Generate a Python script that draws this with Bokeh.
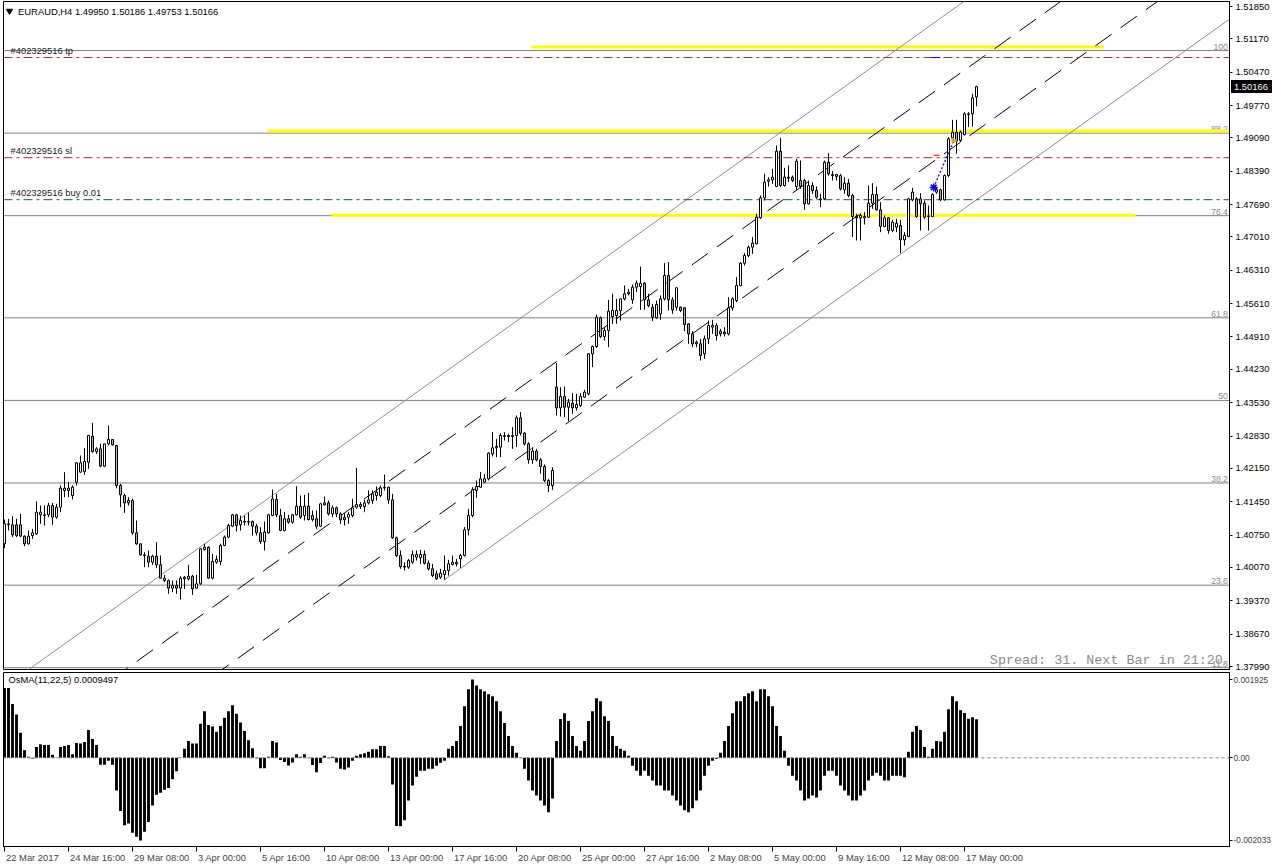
import numpy as np
from bokeh.plotting import figure
from bokeh.layouts import column
from bokeh.models import (ColumnDataSource, FixedTicker, Range1d, Span, NumeralTickFormatter, Div)
from bokeh.embed import file_html
from bokeh.resources import INLINE
from bokeh.core.properties import value

FONT = "Liberation Sans"

title_text = "EURAUD,H4  1.49950 1.50186 1.49753 1.50166"
last_close = 1.50166
osma_title = "OsMA(11,22,5) 0.0009497"
spread_text = "Spread: 31. Next Bar in 21:20"

bar_open = [
1.40566,1.40986,1.40965,1.40965,1.40965,1.40727,1.40566,1.40741,1.40776,1.41175,
1.41175,1.41175,1.41371,1.41126,1.41336,1.41686,1.41686,1.41581,1.41861,1.42071,
1.42085,1.42281,1.42827,1.42505,1.42561,1.42197,1.42666,1.42757,1.42631,1.41791,
1.41581,1.41427,1.41476,1.40797,1.40566,1.40335,1.40307,1.40181,1.40307,1.40125,
1.39845,1.39796,1.39635,1.39691,1.39635,1.39831,1.39831,1.39887,1.39635,1.39726,
1.40447,1.40496,1.39845,1.40181,1.40195,1.40531,1.40706,1.40937,1.41175,1.40965,
1.41035,1.41021,1.41035,1.40937,1.40797,1.40615,1.40797,1.41161,1.41497,1.41161,
1.40846,1.41091,1.41021,1.41175,1.41357,1.41161,1.41357,1.41161,1.41091,1.40937,
1.41385,1.41427,1.41196,1.41322,1.41196,1.41126,1.41126,1.41161,1.41336,1.41392,
1.41350,1.41427,1.41476,1.41581,1.41581,1.41742,1.41756,1.41490,1.40692,1.40321,
1.40090,1.40076,1.40181,1.40286,1.40272,1.40342,1.40160,1.40041,1.39936,1.39866,
1.39922,1.40006,1.40132,1.40181,1.40251,1.40321,1.40860,1.41161,1.41686,1.41756,
1.41861,1.41931,1.42456,1.42582,1.42596,1.42820,1.42841,1.42820,1.42841,1.43212,
1.42890,1.42666,1.42330,1.42512,1.42330,1.42190,1.41896,1.41791,1.43856,1.43422,
1.43660,1.43436,1.43520,1.43422,1.43471,1.43646,1.43716,1.44556,1.44710,1.45312,
1.44920,1.45046,1.45340,1.45361,1.45466,1.45711,1.45816,1.45690,1.45956,1.45970,
1.46040,1.45690,1.45536,1.45312,1.45396,1.45711,1.46201,1.45690,1.45536,1.45536,
1.45522,1.45186,1.44976,1.44766,1.44766,1.44556,1.44871,1.45116,1.45151,1.45032,
1.45011,1.44976,1.45522,1.45676,1.45991,1.46460,1.46621,1.46796,1.46866,1.47412,
1.47832,1.48182,1.48210,1.48070,1.48812,1.48091,1.48266,1.48266,1.48070,1.48196,
1.48196,1.47706,1.48091,1.47986,1.47811,1.47811,1.48581,1.48322,1.48322,1.48301,
1.48000,1.48140,1.47881,1.47440,1.47412,1.47412,1.47426,1.47720,1.47902,1.47580,
1.47230,1.47412,1.47146,1.47216,1.47251,1.46950,1.47020,1.47790,1.47811,1.47811,
1.47720,1.47440,1.47440,1.47951,1.48000,1.47790,1.48301,1.49092,1.49211,1.49036,
1.49162,1.49596,1.49596,1.49950]

bar_high = [
1.41077,1.41091,1.41147,1.41091,1.41196,1.40741,1.40846,1.40881,1.41455,1.41371,
1.41371,1.41427,1.41427,1.41406,1.41791,1.42071,1.41861,1.41791,1.42281,1.42421,
1.42575,1.42855,1.43107,1.42596,1.42666,1.42666,1.43051,1.42757,1.42645,1.41826,
1.41616,1.41546,1.41511,1.41056,1.40566,1.40391,1.40426,1.40335,1.40601,1.40321,
1.39915,1.39817,1.39796,1.39796,1.39887,1.39887,1.40125,1.39915,1.39915,1.40475,
1.40566,1.40517,1.40356,1.40321,1.40566,1.40741,1.40986,1.41196,1.41196,1.41161,
1.41161,1.41217,1.41056,1.40986,1.40916,1.41035,1.41196,1.41707,1.41616,1.41301,
1.41231,1.41175,1.41196,1.41777,1.41581,1.41595,1.41637,1.41266,1.41266,1.41427,
1.41560,1.41476,1.41371,1.41350,1.41231,1.41210,1.41231,1.41511,1.42162,1.41441,
1.41490,1.41686,1.41686,1.41770,1.41791,1.42022,1.41756,1.41616,1.40720,1.40426,
1.40181,1.40251,1.40426,1.40426,1.40440,1.40426,1.40216,1.40146,1.40006,1.40041,
1.40321,1.40230,1.40321,1.40251,1.40356,1.40916,1.41301,1.41756,1.41896,1.42071,
1.42036,1.42491,1.42911,1.42771,1.42890,1.42911,1.42876,1.43016,1.43261,1.43331,
1.42911,1.42701,1.42596,1.42561,1.42372,1.42232,1.41931,1.42176,1.44360,1.43856,
1.43870,1.43611,1.43730,1.43716,1.43730,1.43800,1.44570,1.44731,1.45382,1.45340,
1.45116,1.45690,1.45816,1.45711,1.45711,1.45991,1.45921,1.46012,1.46096,1.46390,
1.46061,1.45816,1.45606,1.45676,1.45781,1.46460,1.46481,1.45746,1.45956,1.45550,
1.45536,1.45200,1.45032,1.44836,1.44871,1.44941,1.45256,1.45270,1.45200,1.45081,
1.45116,1.45746,1.45746,1.46166,1.46481,1.46670,1.46831,1.47006,1.47496,1.47881,
1.48336,1.48266,1.48441,1.48931,1.49092,1.48462,1.48511,1.48301,1.48651,1.48616,
1.48231,1.48196,1.48161,1.48070,1.47916,1.48616,1.48770,1.48392,1.48336,1.48336,
1.48266,1.48231,1.47916,1.47496,1.47510,1.47531,1.48091,1.48140,1.48070,1.47741,
1.47461,1.47426,1.47370,1.47391,1.47370,1.47111,1.47832,1.48042,1.47846,1.47930,
1.47776,1.47671,1.47930,1.48056,1.48021,1.48322,1.49106,1.49470,1.49470,1.49246,
1.49631,1.49631,1.50016,1.50186]

bar_low = [
1.40475,1.40846,1.40706,1.40706,1.40706,1.40517,1.40552,1.40671,1.40755,1.40986,
1.40951,1.41126,1.40965,1.41091,1.41231,1.41546,1.41546,1.41497,1.41791,1.42057,
1.42015,1.42141,1.42477,1.42456,1.42176,1.42176,1.42631,1.42631,1.41735,1.41336,
1.41217,1.41371,1.40755,1.40545,1.40321,1.40076,1.40076,1.40125,1.40055,1.39845,
1.39761,1.39516,1.39551,1.39516,1.39397,1.39621,1.39796,1.39495,1.39621,1.39705,
1.40426,1.39831,1.39817,1.40146,1.40111,1.40517,1.40685,1.40916,1.40825,1.40846,
1.40951,1.40951,1.40741,1.40741,1.40566,1.40426,1.40776,1.41147,1.41126,1.40832,
1.40825,1.40986,1.40986,1.41161,1.41091,1.41056,1.41056,1.41035,1.40881,1.40916,
1.41371,1.41161,1.41126,1.41126,1.40986,1.40951,1.40986,1.41126,1.41301,1.41301,
1.41231,1.41392,1.41406,1.41476,1.41546,1.41686,1.41406,1.40671,1.40286,1.40041,
1.40006,1.40041,1.40146,1.40216,1.40146,1.40132,1.40006,1.39866,1.39810,1.39831,
1.39810,1.39901,1.40111,1.40090,1.40062,1.40300,1.40741,1.41126,1.41532,1.41742,
1.41840,1.41896,1.42400,1.42386,1.42386,1.42736,1.42701,1.42561,1.42596,1.42841,
1.42631,1.42246,1.42246,1.42302,1.42036,1.41861,1.41651,1.41700,1.43261,1.43240,
1.43226,1.43142,1.43296,1.43366,1.43436,1.43632,1.43681,1.44276,1.44682,1.44892,
1.44836,1.44696,1.45186,1.45186,1.45256,1.45676,1.45781,1.45606,1.45851,1.45480,
1.45480,1.45536,1.45242,1.45291,1.45270,1.45676,1.45466,1.45396,1.45466,1.45431,
1.45032,1.44766,1.44696,1.44696,1.44416,1.44451,1.44766,1.44976,1.44836,1.44920,
1.44920,1.44941,1.45466,1.45641,1.45970,1.46411,1.46586,1.46656,1.46852,1.47391,
1.47776,1.48070,1.48126,1.48056,1.48056,1.48070,1.48161,1.48161,1.47986,1.48021,
1.47580,1.47692,1.47916,1.47811,1.47636,1.47790,1.48301,1.48196,1.48196,1.47986,
1.47916,1.47846,1.47006,1.46936,1.46936,1.47272,1.47412,1.47601,1.47566,1.47111,
1.47216,1.47076,1.47111,1.47111,1.46670,1.46831,1.47006,1.47762,1.47412,1.47146,
1.47391,1.47146,1.47426,1.47916,1.47762,1.47776,1.48266,1.49036,1.48756,1.49001,
1.49141,1.49316,1.49330,1.49753]

bar_close = [
1.40986,1.40972,1.40755,1.40741,1.40727,1.40566,1.40727,1.40797,1.41231,1.41231,
1.41161,1.41371,1.41126,1.41336,1.41735,1.41735,1.41735,1.41756,1.42267,1.42267,
1.42295,1.42841,1.42505,1.42561,1.42197,1.42666,1.42757,1.42645,1.41791,1.41595,
1.41427,1.41476,1.40797,1.40566,1.40335,1.40321,1.40181,1.40307,1.40125,1.39845,
1.39796,1.39635,1.39691,1.39635,1.39845,1.39866,1.39887,1.39621,1.39726,1.40461,
1.40496,1.39845,1.40195,1.40237,1.40531,1.40706,1.40951,1.41175,1.40951,1.41056,
1.41021,1.41035,1.40937,1.40797,1.40615,1.40811,1.41175,1.41511,1.41175,1.40846,
1.41091,1.41021,1.41175,1.41357,1.41126,1.41357,1.41077,1.41077,1.40937,1.41406,
1.41427,1.41196,1.41322,1.41196,1.41070,1.41070,1.41182,1.41322,1.41392,1.41350,
1.41427,1.41490,1.41616,1.41651,1.41742,1.41756,1.41490,1.40692,1.40321,1.40090,
1.40076,1.40216,1.40342,1.40342,1.40342,1.40160,1.40041,1.39901,1.39831,1.39950,
1.40006,1.40146,1.40181,1.40146,1.40321,1.40860,1.41161,1.41700,1.41770,1.41931,
1.41931,1.42470,1.42582,1.42610,1.42841,1.42841,1.42820,1.42841,1.43212,1.42890,
1.42666,1.42330,1.42512,1.42330,1.42190,1.41896,1.41791,1.42106,1.43422,1.43660,
1.43436,1.43541,1.43422,1.43492,1.43660,1.43751,1.44556,1.44710,1.45326,1.44920,
1.45046,1.45452,1.45466,1.45466,1.45711,1.45816,1.45851,1.45956,1.46040,1.46040,
1.45690,1.45571,1.45326,1.45592,1.45711,1.46201,1.45690,1.45480,1.45942,1.45466,
1.45172,1.44976,1.44766,1.44801,1.44521,1.44871,1.45151,1.45151,1.44941,1.44976,
1.44976,1.45522,1.45711,1.45991,1.46460,1.46621,1.46796,1.46880,1.47426,1.47832,
1.48161,1.48210,1.48266,1.48812,1.48091,1.48266,1.48245,1.48196,1.48602,1.48070,
1.47706,1.48091,1.47986,1.47846,1.47790,1.48581,1.48336,1.48301,1.48280,1.48021,
1.48140,1.47881,1.47440,1.47412,1.47461,1.47440,1.47720,1.47902,1.47580,1.47230,
1.47412,1.47146,1.47321,1.47300,1.46950,1.47041,1.47811,1.47951,1.47440,1.47706,
1.47426,1.47454,1.47902,1.48000,1.47790,1.48301,1.49071,1.49211,1.49022,1.49211,
1.49596,1.49582,1.49932,1.50166]

osma_values = [
17.15e-4,17.15e-4,13.25e-4,10.65e-4,6.18e-4,1.87e-4,0.24e-4,-0.16e-4,2.68e-4,3.33e-4,
3.17e-4,3.17e-4,0.73e-4,0.08e-4,2.68e-4,2.93e-4,3.17e-4,0.89e-4,3.66e-4,3.50e-4,
3.90e-4,6.83e-4,4.63e-4,3.17e-4,-1.71e-4,-1.71e-4,-0.73e-4,-1.71e-4,-8.05e-4,-13.09e-4,
-16.59e-4,-16.18e-4,-18.46e-4,-19.43e-4,-20.33e-4,-18.21e-4,-15.77e-4,-11.71e-4,-9.11e-4,-8.62e-4,
-7.89e-4,-7.40e-4,-5.28e-4,-3.33e-4,-0.05e-4,2.20e-4,4.15e-4,3.50e-4,3.50e-4,8.37e-4,
11.46e-4,8.05e-4,7.72e-4,6.42e-4,7.80e-4,9.84e-4,11.46e-4,12.93e-4,10.81e-4,8.70e-4,
6.59e-4,4.31e-4,2.36e-4,-0.08e-4,-2.60e-4,-2.60e-4,0.24e-4,4.15e-4,3.74e-4,-0.57e-4,
-1.06e-4,-1.87e-4,-1.14e-4,0.89e-4,0.24e-4,0.89e-4,-0.08e-4,-1.79e-4,-3.58e-4,-1.30e-4,
0.49e-4,-0.08e-4,0.24e-4,-1.14e-4,-2.68e-4,-2.85e-4,-2.36e-4,-0.73e-4,0.49e-4,0.89e-4,
1.14e-4,1.46e-4,2.11e-4,2.11e-4,2.93e-4,2.93e-4,0.41e-4,-6.59e-4,-16.75e-4,-16.84e-4,
-15.37e-4,-10.49e-4,-6.83e-4,-4.64e-4,-3.17e-4,-3.17e-4,-2.68e-4,-2.68e-4,-1.95e-4,-1.22e-4,
-0.73e-4,2.20e-4,2.93e-4,4.15e-4,7.81e-4,12.69e-4,16.84e-4,19.25e-4,17.81e-4,16.84e-4,
16.35e-4,15.62e-4,15.13e-4,13.91e-4,11.47e-4,8.54e-4,5.37e-4,2.93e-4,1.22e-4,0.05e-4,
-2.68e-4,-5.61e-4,-8.05e-4,-9.27e-4,-10.49e-4,-11.71e-4,-13.42e-4,-10.00e-4,4.15e-4,9.52e-4,
10.98e-4,9.03e-4,5.37e-4,2.93e-4,1.71e-4,4.15e-4,9.03e-4,11.47e-4,14.64e-4,13.91e-4,
10.25e-4,9.03e-4,5.37e-4,2.93e-4,2.20e-4,1.71e-4,0.49e-4,-1.95e-4,-3.17e-4,-4.39e-4,
-3.17e-4,-4.39e-4,-5.61e-4,-6.83e-4,-6.83e-4,-8.05e-4,-8.05e-4,-9.27e-4,-10.49e-4,-11.71e-4,
-12.93e-4,-13.42e-4,-12.44e-4,-10.49e-4,-8.05e-4,-4.39e-4,-1.95e-4,-0.73e-4,-0.24e-4,1.22e-4,
4.15e-4,7.81e-4,10.98e-4,13.91e-4,13.91e-4,15.13e-4,15.86e-4,16.35e-4,13.91e-4,16.84e-4,
16.84e-4,15.13e-4,12.69e-4,7.81e-4,5.37e-4,1.71e-4,-1.95e-4,-4.39e-4,-5.61e-4,-8.05e-4,
-10.49e-4,-10.00e-4,-9.27e-4,-9.76e-4,-8.05e-4,-4.39e-4,-3.17e-4,-3.17e-4,-4.39e-4,-6.83e-4,
-8.05e-4,-9.27e-4,-10.49e-4,-10.49e-4,-9.27e-4,-8.05e-4,-5.61e-4,-4.39e-4,-3.66e-4,-4.39e-4,
-5.61e-4,-5.61e-4,-4.39e-4,-4.39e-4,-4.39e-4,-4.81e-4,1.46e-4,6.42e-4,7.81e-4,6.83e-4,
2.68e-4,0.24e-4,2.20e-4,4.15e-4,3.98e-4,6.42e-4,11.96e-4,15.13e-4,13.91e-4,11.71e-4,
11.05e-4,9.59e-4,10.00e-4,9.50e-4]

price_tick_labels = ["1.51850", "1.51170", "1.50470", "1.49770", "1.49090", "1.48390", "1.47690",
                     "1.47010", "1.46310", "1.45610", "1.44910", "1.44230", "1.43530", "1.42830",
                     "1.42150", "1.41450", "1.40750", "1.40070", "1.39370", "1.38670", "1.37990"]
osma_tick_values = [0.001925, 0.0, -0.002033]
osma_tick_labels = ["0.001925", "0.00", "-0.002033"]
time_tick_bars = [0, 16, 32, 48, 64, 80, 96, 112, 128, 144, 160, 176, 192, 208, 224, 240]
time_tick_labels = ["22 Mar 2017", "24 Mar 16:00", "29 Mar 08:00", "3 Apr 00:00", "5 Apr 16:00",
                    "10 Apr 08:00", "13 Apr 00:00", "17 Apr 16:00", "20 Apr 08:00", "25 Apr 00:00",
                    "27 Apr 16:00", "2 May 08:00", "5 May 00:00", "9 May 16:00", "12 May 08:00",
                    "17 May 00:00"]

fib_levels = [100, 88.2, 76.4, 61.8, 50, 38.2, 23.6, 11.8]
fib_level_labels = ["100", "88.2", "76.4", "61,8", "50", "38,2", "23,6", "11,8"]
fib_price_100 = 1.50925
fib_price_0 = 1.36231

yellow_prices = [1.51000, 1.49237, 1.47467]
yellow_start_bar = [131.75, 65.75, 81.75]
yellow_end_bar = [274.75, 310.0, 282.75]

order_labels = ["#402329516 tp", "#402329516 sl", "#402329516 buy 0.01"]
order_prices = [1.50778, 1.48675, 1.47793]
order_colors = ["#a52a2a", "#a52a2a", "#0b6b0b"]

channel_anchor_bar = 110
channel_anchor_price = 1.39810
channel_slope = 0.000600
channel_height = 0.04354

entry_bar, entry_price = 232.3, 1.48050
exit_bar, exit_price = 237.3, 1.49031

X0, X1 = -0.25, 306.25
Y0, Y1 = 1.37927, 1.51955
O0, O1 = -0.002182, 0.0020984
FRAME_W = 1226
FRAME_H = 668
TOP = 1
LEFT = 3
FS = 9.4  # px, label font size

# ---------------- main price panel ----------------
p = figure(frame_width=FRAME_W, frame_height=FRAME_H, x_range=Range1d(X0, X1), y_range=Range1d(Y0, Y1),
           y_axis_location="right", x_axis_location=None, output_backend="svg",
           toolbar_location=None, min_border_left=LEFT, min_border_top=TOP, min_border_bottom=1,
           min_border_right=0, background_fill_color="white", border_fill_color="white",
           outline_line_color="black", outline_line_width=1)
p.grid.visible = False
ya = p.yaxis[0]
ya.ticker = FixedTicker(ticks=[float(s) for s in price_tick_labels])
ya.formatter = NumeralTickFormatter(format="0.00000")
ya.major_tick_out = 3
ya.major_tick_in = 0
ya.minor_tick_out = 0
ya.minor_tick_in = 0
ya.major_label_standoff = 3
ya.axis_line_color = "black"
ya.major_label_text_font = FONT
ya.major_label_text_font_size = "%spx" % FS
ya.major_label_text_color = "black"

# fibonacci levels
fib_prices = [fib_price_0 + (fib_price_100 - fib_price_0) * lv / 100.0 for lv in fib_levels]
p.segment(x0=[X0] * len(fib_prices), x1=[X1] * len(fib_prices), y0=fib_prices, y1=fib_prices,
          line_color="#808080", line_width=1)
p.text(x=[X1 - 0.4] * len(fib_prices), y=fib_prices, text=fib_level_labels, text_align="right",
       text_baseline="bottom", y_offset=-1, text_font=value(FONT), text_font_size="8.6px",
       text_color="#8a8a8a")

# yellow horizontal levels
p.segment(x0=yellow_start_bar, x1=yellow_end_bar, y0=yellow_prices, y1=yellow_prices,
          line_color="#ffff00", line_width=3)

# equidistant channel
xs_full = np.array([-30.0, 330.0])
def chan(off, xs):
    return list(channel_anchor_price + channel_slope * (xs - channel_anchor_bar) + off)
xs_low = np.array([channel_anchor_bar, 330.0])
p.line(list(xs_low), chan(0.0, xs_low), line_color="#8c8c8c", line_width=1)
p.line(list(xs_full), chan(channel_height, xs_full), line_color="#8c8c8c", line_width=1)
p.line(list(xs_full), chan(channel_height / 3.0, xs_full), line_color="black", line_width=1,
       line_dash="20 11")
p.line(list(xs_full), chan(2.0 * channel_height / 3.0, xs_full), line_color="black", line_width=1,
       line_dash="20 11")

# order lines
for lab, pr, col in zip(order_labels, order_prices, order_colors):
    p.segment(x0=[X0], x1=[X1], y0=[pr], y1=[pr], line_color=col, line_width=1, line_dash="9 4 3 4")
p.text(x=[1.5] * 3, y=order_prices, text=order_labels, text_baseline="bottom", y_offset=-2,
       text_font=value(FONT), text_font_size="%spx" % FS, text_color="#202020")

# candles
idx = list(range(len(bar_open)))
tops = [max(o, c) for o, c in zip(bar_open, bar_close)]
bots = [min(o, c) for o, c in zip(bar_open, bar_close)]
fills = ["white" if c >= o else "#b0b0b0" for o, c in zip(bar_open, bar_close)]
src = ColumnDataSource(dict(x=idx, h=bar_high, l=bar_low, t=tops, b=bots, f=fills))
p.segment(x0="x", x1="x", y0="h", y1="l", source=src, line_color="black", line_width=1)
p.vbar(x="x", width=0.5, top="t", bottom="b", source=src, fill_color="f", line_color="black",
       line_width=1)

# trade markers
p.segment(x0=[entry_bar], x1=[entry_bar + 1.5], y0=[order_prices[1] + 0.0005], y1=[order_prices[1] + 0.0005],
          line_color="red", line_width=1)
p.segment(x0=[entry_bar - 0.7], x1=[entry_bar + 1.7], y0=[order_prices[0]], y1=[order_prices[0]],
          line_color="blue", line_width=1)
p.line([entry_bar, exit_bar], [entry_price, exit_price], line_color="blue", line_width=1.3,
       line_dash="2 2")
p.scatter([entry_bar], [entry_price], marker="asterisk", size=8, line_color="blue", line_width=1.5)
p.scatter([exit_bar], [exit_price], marker="triangle", size=6, angle=0.6, fill_color="#d4a040",
          line_color="#d4a040")

# title, spread text
p.scatter([1.25], [Y1 - 0.0020], marker="inverted_triangle", size=6, fill_color="black",
          line_color="black")
p.text(x=[3.4], y=[Y1 - 0.0020], text=[title_text], text_baseline="middle",
       text_font=value(FONT), text_font_size="%spx" % FS, text_color="black")
p.text(x=[304.6], y=[Y0 + 0.0019], text=[spread_text], text_baseline="middle", text_align="right",
       text_font=value("Liberation Mono"), text_font_size="13.4px", text_color="#8c8c8c")

# ---------------- OsMA panel ----------------
q = figure(frame_width=FRAME_W, frame_height=174, x_range=p.x_range, y_range=Range1d(O0, O1),
           y_axis_location="right", x_axis_location="below", output_backend="svg",
           toolbar_location=None, min_border_left=LEFT, min_border_top=2, min_border_bottom=0,
           min_border_right=0, background_fill_color="white", border_fill_color="white",
           outline_line_color="black", outline_line_width=1)
q.grid.visible = False
q.add_layout(Span(location=0, dimension="width", line_color="#808080", line_dash="3 3", line_width=1))
q.vbar(x=idx, width=0.72, top=osma_values, bottom=0, fill_color="black", line_color=None)
q.text(x=[1.0], y=[0.001926], text=[osma_title], text_baseline="middle", text_font=value(FONT),
       text_font_size="%spx" % FS, text_color="black")

qy = q.yaxis[0]
qy.ticker = FixedTicker(ticks=osma_tick_values)
qy.major_label_overrides = {v: s for v, s in zip(osma_tick_values, osma_tick_labels)}
qy.major_tick_out = 3
qy.major_tick_in = 0
qy.minor_tick_out = 0
qy.minor_tick_in = 0
qy.major_label_standoff = 1
qy.axis_line_color = "black"
qy.major_label_text_font = FONT
qy.major_label_text_font_size = "8.3px"

# time axis: tick marks (minor ticks) at the bars, labels start just right of each tick (MT4 style)
char_em = {" ": 0.278, ":": 0.278, "M": 0.833, "a": 0.556, "r": 0.333, "A": 0.667, "p": 0.556,
           "y": 0.5}
def text_px(s):
    return sum(char_em.get(ch, 0.556) for ch in s) * FS
px_per_bar = FRAME_W / (X1 - X0)
label_pos = [b + (text_px(s) / 2.0 + 1.5) / px_per_bar for b, s in zip(time_tick_bars, time_tick_labels)]
qx = q.xaxis[0]
qx.ticker = FixedTicker(ticks=label_pos, minor_ticks=time_tick_bars)
qx.major_label_overrides = {pos: s for pos, s in zip(label_pos, time_tick_labels)}
qx.major_tick_line_color = None
qx.major_tick_out = 5
qx.major_tick_in = 0
qx.minor_tick_line_color = "black"
qx.minor_tick_out = 5
qx.minor_tick_in = 0
qx.major_label_standoff = 0
qx.axis_line_color = "black"
qx.major_label_text_font = FONT
qx.major_label_text_font_size = "%spx" % FS

# current price tag drawn over the price scale (black box, white text)
tag_top = TOP + (Y1 - last_close) / (Y1 - Y0) * FRAME_H - 6.5
tag = Div(text="%.5f" % last_close, width=41, height=13,
          styles={"position": "absolute", "left": "%dpx" % (LEFT + FRAME_W + 2),
                  "top": "%dpx" % round(tag_top), "background-color": "black", "color": "white",
                  "font-family": FONT, "font-size": "%spx" % FS, "line-height": "13px",
                  "padding-left": "3px", "box-sizing": "border-box", "margin": "0",
                  "z-index": "10", "overflow": "hidden"})

layout = column(p, q, tag, spacing=0)
open("out.html", "w").write(file_html(layout, INLINE))
